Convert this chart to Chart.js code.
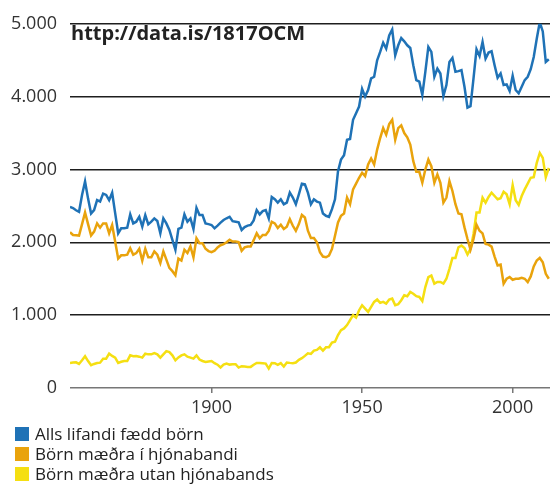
<!DOCTYPE html>
<html>
<head>
<meta charset="utf-8">
<script src="https://cdn.jsdelivr.net/npm/chart.js@4/dist/chart.umd.min.js"></script>
<style>
    body { margin: 0; background: #fff; font-family: "Open Sans", sans-serif; }
    #wrap { position: relative; width: 554px; height: 485px; }
    #chartBox { position: absolute; left: 0; top: 0; width: 554px; height: 425px; }
    #legend { position: absolute; left: 15px; top: 424px; font-size: 17px; color: #222; }
    .item { height: 20px; line-height: 20px; display: flex; align-items: center; }
    .box { width: 14px; height: 14px; margin-right: 6px; }
</style>
</head>
<body>
<div id="wrap">
    <div id="chartBox"><canvas id="birthChart"></canvas></div>
    <div id="legend"></div>
</div>
<script>
const firstYear = 1853;

// Alls lifandi fædd börn
const allBirths = [
    2487, 2470, 2440, 2419, 2650, 2836, 2600,
    2396, 2442, 2580, 2560, 2668, 2650, 2578, 2681, 2400, 2124,
    2192, 2192, 2200, 2383, 2260, 2283, 2351, 2215, 2374, 2247,
    2283, 2328, 2292, 2124, 2328, 2260, 2170, 2034, 1898, 2184,
    2202, 2383, 2283, 2328, 2184, 2473, 2374, 2374, 2260, 2250,
    2238, 2192, 2230, 2270, 2306, 2330, 2351, 2290, 2283, 2274,
    2170, 2210, 2229, 2238, 2300, 2442, 2383, 2428, 2442, 2328,
    2623, 2592, 2545, 2591, 2523, 2545, 2682, 2614, 2523, 2659,
    2805, 2795, 2682, 2523, 2591, 2559, 2545, 2396, 2364, 2350,
    2455, 2591, 2977, 3136, 3196, 3409, 3420, 3682, 3773, 3864,
    4105, 4000, 4091, 4250, 4273, 4500, 4614, 4741, 4659, 4841,
    4923, 4568, 4705, 4805, 4759, 4705, 4668, 4432, 4227, 4205,
    4023, 4341, 4682, 4614, 4273, 4386, 4318, 4009, 4159, 4477,
    4532, 4341, 4350, 4364, 4136, 3850, 3870, 4250, 4650, 4559,
    4750, 4523, 4605, 4623, 4432, 4259, 4318, 4159, 4168, 4077,
    4286, 4091, 4045, 4136, 4227, 4273, 4377, 4545, 4795, 5023,
    4895, 4477, 4514
];

// Börn mæðra í hjónabandi
const inMarriage = [
    2138, 2100, 2097, 2093, 2250, 2410, 2250,
    2093, 2147, 2260, 2202, 2260, 2260, 2124, 2238, 2011, 1776,
    1821, 1821, 1830, 1920, 1830, 1852, 1912, 1749, 1912, 1794,
    1794, 1875, 1830, 1716, 1875, 1762, 1649, 1604, 1549, 1776,
    1749, 1898, 1852, 1943, 1794, 2056, 1988, 1988, 1912, 1880,
    1866, 1884, 1930, 1960, 1975, 2000, 2034, 2011, 2011, 2002,
    1884, 1930, 1943, 1943, 2030, 2124, 2056, 2102, 2102, 2156,
    2283, 2260, 2196, 2241, 2182, 2214, 2318, 2227, 2159, 2250,
    2377, 2341, 2159, 2059, 2059, 2000, 1864, 1805, 1795, 1818,
    1909, 2091, 2273, 2364, 2395, 2614, 2523, 2727, 2805, 2886,
    2955, 2909, 3068, 3150, 3068, 3273, 3432, 3568, 3477, 3623,
    3682, 3409, 3568, 3605, 3500, 3441, 3341, 3114, 2968, 2968,
    2818, 3000, 3136, 3045, 2818, 2932, 2818, 2545, 2614, 2841,
    2705, 2523, 2395, 2386, 2205, 2045, 1900, 2045, 2241, 2159,
    2123, 1977, 1968, 1941, 1805, 1682, 1695, 1432, 1500, 1523,
    1486, 1500, 1500, 1514, 1500, 1455, 1532, 1668, 1750, 1786,
    1727, 1568, 1500
];

// Börn mæðra utan hjónabands
const outsideMarriage = [
    344, 350, 353, 330, 380, 435, 370,
    313, 330, 344, 348, 403, 403, 471, 440, 417, 344,
    360, 371, 371, 448, 435, 439, 430, 417, 471, 462,
    462, 480, 462, 417, 462, 507, 493, 448, 380, 420,
    448, 462, 430, 417, 403, 448, 390, 371, 358, 365,
    371, 340, 320, 281, 320, 335, 321, 325, 326, 281,
    299, 295, 290, 290, 320, 344, 344, 340, 335, 267,
    344, 341, 318, 341, 295, 350, 345, 341, 350, 386,
    409, 441, 477, 468, 514, 523, 559, 514, 559, 559,
    623, 636, 727, 795, 818, 864, 932, 1000, 968, 1068,
    1136, 1091, 1045, 1114, 1182, 1214, 1168, 1182, 1159, 1214,
    1227, 1136, 1150, 1205, 1273, 1259, 1318, 1295, 1260, 1250,
    1195, 1386, 1523, 1545, 1432, 1455, 1455, 1432, 1500, 1636,
    1786, 1786, 1932, 1955, 1923, 1832, 1909, 2114, 2409, 2409,
    2614, 2545, 2623, 2682, 2636, 2591, 2605, 2695, 2659, 2523,
    2786, 2577, 2514, 2636, 2727, 2805, 2886, 2895, 3091, 3227,
    3159, 2895, 3023
];

const xTicks = [1900, 1950, 2000];
const yTicks = [0, 1000, 2000, 3000, 4000, 5000];

const seriesNames = ["Alls lifandi fædd börn", "Börn mæðra í hjónabandi", "Börn mæðra utan hjónabands"];
const seriesColors = ["#1f72b6", "#e9a30c", "#f5df12"];

const fontFamily = "'Open Sans', sans-serif";

function toPoints(values) {
    return values.map((v, i) => ({ x: firstYear + i, y: v }));
}

function formatThousands(v) {
    return String(v).replace(/\B(?=(\d{3})+(?!\d))/g, ".");
}

const sourceLabel = {
    id: "sourceLabel",
    afterDraw(chart) {
        const c = chart.ctx;
        c.save();
        c.font = "bold 20px " + fontFamily;
        c.fillStyle = "#222";
        c.textBaseline = "middle";
        c.fillText("http://data.is/1817OCM", chart.chartArea.left + 1, 34);
        c.restore();
    }
};

const seriesData = [allBirths, inMarriage, outsideMarriage];

const chart = new Chart(document.getElementById("birthChart"), {
    type: "line",
    data: {
        datasets: seriesData.map((vals, i) => ({
            label: seriesNames[i],
            data: toPoints(vals),
            borderColor: seriesColors[i],
            backgroundColor: seriesColors[i],
            borderWidth: 2.5,
            pointRadius: 0,
            tension: 0
        }))
    },
    options: {
        responsive: true,
        maintainAspectRatio: false,
        animation: false,
        layout: { padding: { top: 20, right: 4, left: 0, bottom: 0 } },
        plugins: {
            legend: { display: false },
            tooltip: { enabled: false }
        },
        scales: {
            x: {
                type: "linear",
                min: firstYear,
                max: 2012.4,
                afterBuildTicks: scale => {
                    scale.ticks = xTicks.map(v => ({ value: v }));
                },
                afterFit: scale => { scale.height = 37; },
                grid: {
                    drawOnChartArea: false,
                    drawTicks: true,
                    tickLength: 5,
                    color: "#777",
                    lineWidth: 1.5
                },
                border: { display: false },
                ticks: {
                    padding: 4,
                    maxRotation: 0,
                    color: "#333",
                    font: { family: fontFamily, size: 18 },
                    callback: v => String(v)
                }
            },
            y: {
                min: 0,
                max: 5000,
                afterBuildTicks: scale => {
                    scale.ticks = yTicks.map(v => ({ value: v }));
                },
                afterFit: scale => { scale.width = 70; },
                grid: {
                    drawTicks: false,
                    color: ctx => ctx.tick && ctx.tick.value === 0 ? "#777" : "#1e1e1e",
                    lineWidth: 1.5
                },
                border: { display: false },
                ticks: {
                    padding: 13,
                    color: "#333",
                    font: { family: fontFamily, size: 18 },
                    callback: v => formatThousands(v)
                }
            }
        }
    },
    plugins: [sourceLabel]
});

document.getElementById("legend").innerHTML = chart.data.datasets.map(ds => `
    <div class="item"><span class="box" style="background:${ds.borderColor}"></span>${ds.label}</div>
`).join("");
</script>
</body>
</html>
